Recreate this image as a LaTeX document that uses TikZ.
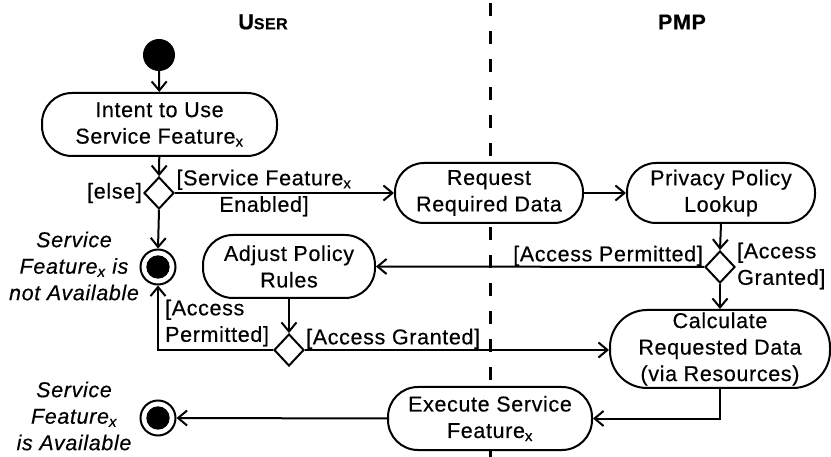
\documentclass[tikz,border=0pt]{standalone}
\usepackage{fontspec}
\setmainfont{Liberation Sans}[LetterSpace=3,FakeBold=0.4]
\usetikzlibrary{arrows.meta,shapes.geometric,calc}
\tikzset{
  act/.style n args={3}{draw, line width=2pt, fill=white, inner sep=0pt, align=center,
    minimum width=#1pt, minimum height=#2pt, rounded corners=#3pt},
  dec/.style={draw, diamond, line width=2pt, fill=white, inner sep=0pt, minimum width=30pt, minimum height=32pt},
  conn/.style={line width=2pt, -{Straight Barb[length=9pt,width=15pt]}},
  initnode/.style={circle, fill=black, inner sep=0pt, minimum size=32pt},
  finalnode/.style={circle, draw, line width=2pt, fill=white, inner sep=0pt, minimum size=35pt,
    path picture={\fill[black] (path picture bounding box.center) circle (11.7pt);}},
  lbl/.style={inner sep=1pt},
  lane/.style={line width=3pt, dash pattern=on 13pt off 15pt, dash phase=-3pt},
}
\begin{document}
\begin{tikzpicture}[x=1pt,y=-1pt,font=\fontsize{21.5}{26.5}\selectfont]
\useasboundingbox (0,0) rectangle (831,457);
\coordinate (lanetop) at (490,0);
\coordinate (lanebot) at (490,457);
\draw[lane] (lanetop) -- (lanebot);

\node (huser) at (263,22) {\bfseries U{\fontsize{16}{16}\selectfont SER}};
\node (hpmp) at (682,22) {\bfseries PMP};

\node[initnode] (init) at (159,55) {};
\node[act={235}{63}{30}] (intent) at (159.5,124.5) {Intent to Use\\Service Feature\textsubscript{x}};
\node[dec] (d1) at (159,193) {};
\node[act={188}{60}{29}] (req) at (489,193) {Request\\Required Data};
\node[act={188}{60}{29}] (priv) at (721,193) {Privacy Policy\\Lookup};
\node[dec] (d2) at (720,267) {};
\node[act={172}{63}{30}] (adj) at (289,266.5) {Adjust Policy\\Rules};
\node[dec] (d3) at (289,350) {};
\node[act={220}{78}{37}] (calc) at (720,349) {Calculate\\Requested Data\\(via Resources)};
\node[act={204}{63}{30}] (exec) at (490,418.5) {Execute Service\\Feature\textsubscript{x}};
\node[finalnode] (f1) at (158,267) {};
\node[finalnode] (f2) at (158,418) {};

\node[align=center, inner sep=0pt] (tf1) at (74,266) {\itshape Service\\\itshape Feature\textsubscript{x} is\\\itshape not Available};
\node[align=center, inner sep=0pt] (tf2) at (74,416) {\itshape Service\\\itshape Feature\textsubscript{x}\\\itshape is Available};

\draw[conn] (init) -- (intent);
\draw[conn] (intent) -- (d1);
\draw[conn] (d1.east) -- (req.west);
\draw[conn] (d1.south) -- (f1.north);
\draw[conn] (req.east) -- (priv.west);
\draw[conn] (priv.south) -- (d2.north);
\draw[conn] (d2.west) -- (adj.east);
\draw[conn] (d2.south) -- (calc.north);
\draw[conn] (adj.south) -- (d3.north);
\draw[conn] (d3.west) -| (f1.south);
\draw[conn] (d3.east) -- (d3.east -| calc.west);
\draw[conn] (calc.south) |- (exec.east);
\draw[conn] (exec.west) -- (f2.east);

\node[lbl, anchor=east] (lelse) at (d1.west) {[else]};
\node[align=center, inner sep=0pt] (lsfe) at (264,193) {[Service Feature\textsubscript{x}\\Enabled]};
\node[lbl, anchor=south east] (lap1) at (d2.west) {[Access Permitted]};
\node[lbl, anchor=west, align=left] (lag1) at (736,266) {[Access\\Granted]};
\node[lbl, anchor=west, align=left] (lap2) at (164,323) {[Access\\Permitted]};
\node[lbl, anchor=south west] (lag2) at (d3.east) {[Access Granted]};
\end{tikzpicture}
\end{document}
